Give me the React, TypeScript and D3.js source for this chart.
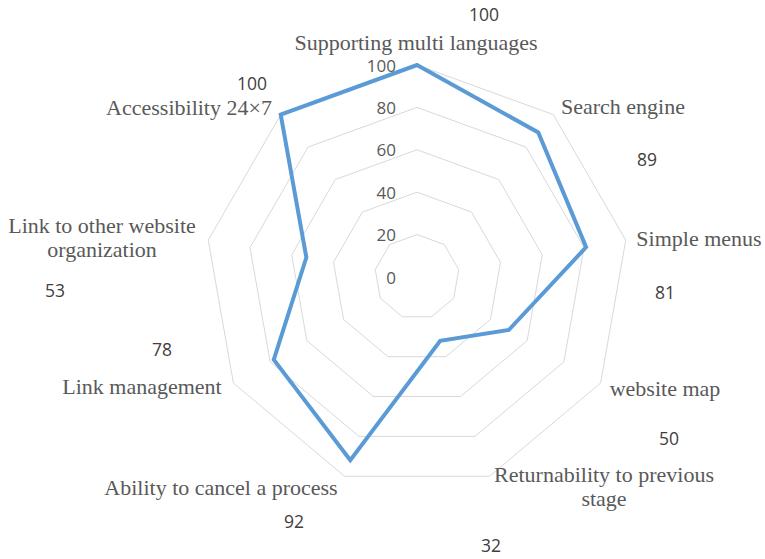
import React from "react";
import * as d3 from "d3";

const categories: string[][] = [
  ["Supporting multi languages"],
  ["Search engine"],
  ["Simple menus"],
  ["website map"],
  ["Returnability to previous", "stage"],
  ["Ability to cancel a process"],
  ["Link management"],
  ["Link to other website", "organization"],
  ["Accessibility 24×7"],
];
const values: number[] = [100, 89, 81, 50, 32, 92, 78, 53, 100];
const ticks: number[] = [0, 20, 40, 60, 80, 100];

// layout: category label anchor (center x, first baseline y)
const catPos: [number, number][] = [
  [416, 50], [623, 114], [699, 246], [665, 396], [604, 482],
  [221, 495], [142, 394], [102, 233], [189, 115],
];
// layout: value label centers
const valPos: [number, number][] = [
  [484, 14], [647, 159], [665, 292], [669, 438], [491, 545],
  [294, 521], [162, 349], [55, 290], [252, 83],
];

const W = 765, H = 559;
const cx = 417, cy = 277, R = 212;
const serif = "'Liberation Serif', 'Times New Roman', Times, 'DejaVu Serif', serif";

export default function App() {
  const n = categories.length;
  const angle = d3.scaleLinear().domain([0, n]).range([0, 2 * Math.PI]);
  const r = d3.scaleLinear().domain([0, 100]).range([0, R]);
  const radial = d3
    .lineRadial<number>()
    .angle((_, i) => angle(i))
    .radius((d) => r(d))
    .curve(d3.curveLinearClosed);
  const idx = d3.range(n);

  return (
    <svg
      width={W}
      height={H}
      style={{ position: "absolute", left: 0, top: 0, background: "#fff" }}
    >
      <g transform={`translate(${cx},${cy})`}>
        {ticks
          .filter((t) => t > 0)
          .map((t) => (
            <path
              key={t}
              d={radial(idx.map(() => t)) || ""}
              fill="none"
              stroke="#D9D9D9"
              strokeWidth={1}
            />
          ))}
        <path
          d={radial(values) || ""}
          fill="none"
          stroke="#5B9BD5"
          strokeWidth={4}
          strokeLinejoin="miter"
        />
        {ticks.map((t) => (
          <text
            key={t}
            x={-21}
            y={-r(t)}
            textAnchor="end"
            dominantBaseline="central"
            style={{ fontFamily: "'Open Sans', sans-serif", fontSize: 17 }}
            fill="#595959"
          >
            {t}
          </text>
        ))}
      </g>
      {categories.map((lines, i) => (
        <text
          key={i}
          x={catPos[i][0]}
          y={catPos[i][1]}
          textAnchor="middle"
          style={{ fontFamily: serif, fontSize: 22 }}
          fill="#595959"
        >
          {lines.map((l, j) => (
            <tspan key={j} x={catPos[i][0]} dy={j === 0 ? 0 : 24}>
              {l}
            </tspan>
          ))}
        </text>
      ))}
      {values.map((v, i) => (
        <text
          key={i}
          x={valPos[i][0]}
          y={valPos[i][1]}
          textAnchor="middle"
          dominantBaseline="central"
          style={{ fontFamily: "'Open Sans', sans-serif", fontSize: 17.5 }}
          fill="#404040"
        >
          {v}
        </text>
      ))}
    </svg>
  );
}
